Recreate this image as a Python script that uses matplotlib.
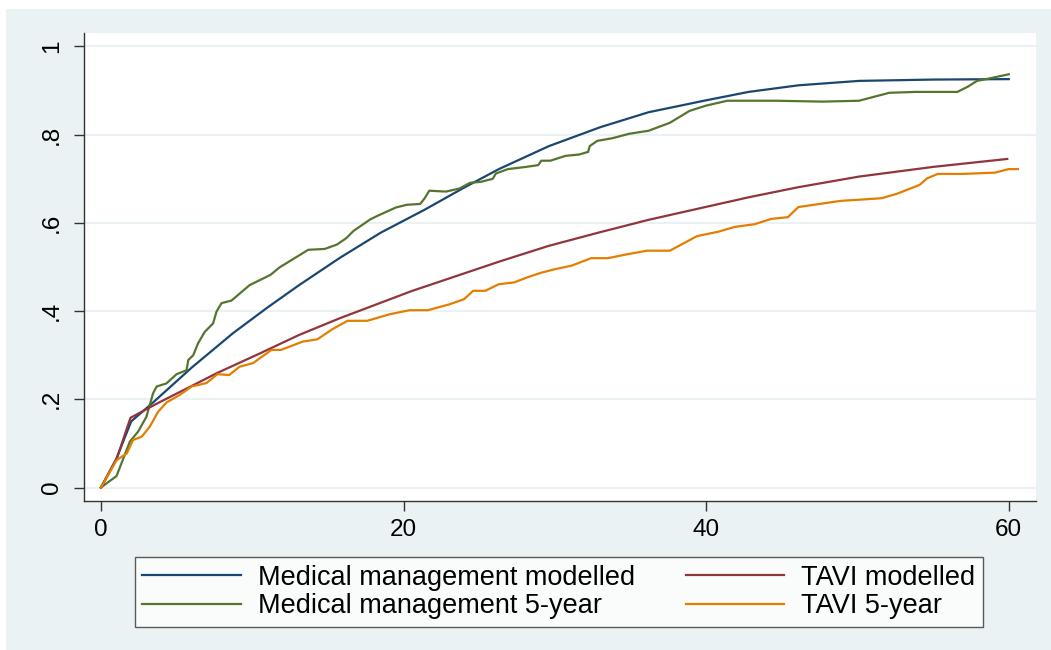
import matplotlib
matplotlib.use('Agg')
import matplotlib.pyplot as plt
from matplotlib.patches import Rectangle

plt.rcParams['font.family'] = ['Liberation Sans', 'DejaVu Sans']

# Medical management modelled
mm_mod_x = [0, 1.03, 2.0, 3.45, 6.0, 8.73, 11.0, 13.1, 15.8, 18.5, 21.4, 24.0, 26.3, 29.6, 33.0, 36.2,
            40.0, 42.8, 46.1, 50.1, 55.0, 60.0]
mm_mod_y = [0, 0.066, 0.150, 0.193, 0.272, 0.350, 0.408, 0.459, 0.521, 0.578, 0.630, 0.680, 0.722,
            0.774, 0.817, 0.851, 0.878, 0.897, 0.912, 0.922, 0.925, 0.926]

# Medical management 5-year
mm_5y_x = [0, 1.03, 1.91, 2.46, 3.0, 3.45, 3.68, 4.33, 5.0, 5.66, 5.77, 6.1, 6.42, 6.86, 7.41, 7.64,
           7.97, 8.63, 9.83, 11.2, 11.8, 13.7, 14.8, 15.6, 16.2, 16.7, 17.8, 18.4, 19.5, 20.2, 21.1,
           21.4, 21.7, 22.8, 23.7, 24.4, 25.1, 25.9, 26.1, 26.9, 28.1, 28.9, 29.1, 29.7, 30.7, 31.6,
           32.2, 32.3, 32.8, 33.8, 34.9, 36.2, 37.6, 38.9, 40.0, 41.4, 44.6, 47.7, 50.1, 52.1, 53.8,
           56.6, 57.3, 57.9, 58.5, 60.0]
mm_5y_y = [0, 0.026, 0.104, 0.127, 0.160, 0.214, 0.229, 0.236, 0.257, 0.266, 0.289, 0.300, 0.327,
           0.353, 0.372, 0.399, 0.418, 0.424, 0.459, 0.482, 0.499, 0.539, 0.541, 0.551, 0.565, 0.582,
           0.608, 0.618, 0.635, 0.641, 0.643, 0.656, 0.673, 0.671, 0.678, 0.691, 0.693, 0.700, 0.712,
           0.722, 0.727, 0.731, 0.741, 0.741, 0.752, 0.755, 0.761, 0.774, 0.786, 0.792, 0.802, 0.809,
           0.827, 0.854, 0.866, 0.877, 0.877, 0.875, 0.877, 0.895, 0.897, 0.897, 0.909, 0.922, 0.926,
           0.937]

# TAVI modelled
tavi_mod_x = [0, 1.03, 1.95, 3.68, 6.1, 7.64, 10.5, 13.1, 15.8, 20.5, 26.3, 29.6, 33.0, 36.2, 42.8,
              46.1, 50.1, 55.0, 59.9]
tavi_mod_y = [0, 0.064, 0.158, 0.190, 0.232, 0.259, 0.304, 0.346, 0.384, 0.445, 0.512, 0.548, 0.579,
              0.607, 0.658, 0.681, 0.705, 0.727, 0.745]

# TAVI 5-year
tavi_5y_x = [0, 1.03, 1.7, 2.13, 2.69, 3.23, 3.78, 4.34, 5.21, 5.99, 6.98, 7.7, 8.47, 9.17, 10.05,
             11.27, 11.9, 13.35, 14.3, 15.3, 16.3, 17.6, 19.1, 20.4, 21.6, 23.0, 24.0, 24.6, 25.4,
             26.3, 27.3, 28.3, 29.1, 30.0, 31.1, 32.4, 33.5, 34.8, 36.1, 37.6, 39.4, 40.8, 41.9,
             43.2, 44.3, 45.4, 46.1, 47.5, 48.9, 50.3, 51.6, 52.6, 54.1, 54.6, 55.3, 56.9, 59.1,
             60.0, 60.6]
tavi_5y_y = [0, 0.062, 0.077, 0.108, 0.115, 0.138, 0.172, 0.193, 0.210, 0.229, 0.237, 0.257, 0.255,
             0.274, 0.282, 0.312, 0.312, 0.331, 0.336, 0.359, 0.378, 0.378, 0.393, 0.402, 0.402,
             0.415, 0.427, 0.446, 0.446, 0.461, 0.465, 0.478, 0.487, 0.495, 0.503, 0.520, 0.520,
             0.529, 0.537, 0.537, 0.570, 0.580, 0.591, 0.597, 0.609, 0.613, 0.636, 0.643, 0.650,
             0.653, 0.656, 0.666, 0.686, 0.701, 0.711, 0.711, 0.714, 0.722, 0.722]

y_ticks = [0, 0.2, 0.4, 0.6, 0.8, 1]
y_labels = ['0', '.2', '.4', '.6', '.8', '1']
x_ticks = [0, 20, 40, 60]

bg = '#EAF2F3'
fig = plt.figure(figsize=(10.51, 6.5), dpi=100, facecolor='white')
fig.patches.append(Rectangle((6 / 1051, 0), 1, (650 - 9) / 650, transform=fig.transFigure,
                             facecolor=bg, edgecolor='none', zorder=-10))

ax = fig.add_axes([84 / 1051, 1 - 501 / 650, (1036 - 84) / 1051, (501 - 33) / 650])
ax.set_facecolor('white')

ax.plot(mm_mod_x, mm_mod_y, color='#1A476F', lw=1.6, label='Medical management modelled')
ax.plot(mm_5y_x, mm_5y_y, color='#55752F', lw=1.6, label='Medical management 5-year')
ax.plot(tavi_mod_x, tavi_mod_y, color='#90353B', lw=1.6, label='TAVI modelled')
ax.plot(tavi_5y_x, tavi_5y_y, color='#E37E00', lw=1.6, label='TAVI 5-year')

ax.set_xlim(-1.12, 61.8)
ax.set_ylim(-0.0306, 1.0306)
ax.set_xticks(x_ticks)
ax.set_yticks(y_ticks)
ax.set_yticklabels(y_labels, rotation=90, va='center')
ax.tick_params(axis='both', labelsize=17.5, length=7, width=1, color='#333333', pad=6)
ax.tick_params(axis='y', pad=8)
ax.grid(axis='y', color=bg, lw=1.5)
ax.set_axisbelow(True)
for s in ['top', 'right']:
    ax.spines[s].set_visible(False)
for s in ['left', 'bottom']:
    ax.spines[s].set_color('#333333')
    ax.spines[s].set_linewidth(1)

# legend order: column 1 medical, column 2 TAVI
h, l = ax.get_legend_handles_labels()
leg = fig.legend(h, l, ncol=2, loc='center',
                 bbox_to_anchor=((130 + 988) / 2 / 1051, 1 - (559 + 625) / 2 / 650),
                 fontsize=19.5, frameon=True, fancybox=False, handlelength=3.65,
                 handletextpad=0.63, columnspacing=1.85, labelspacing=0.1, borderpad=0.28)
leg.get_frame().set_edgecolor('#333333')
leg.get_frame().set_linewidth(1)
leg.get_frame().set_facecolor('white')

fig.savefig('out.png', dpi=100, facecolor=fig.get_facecolor())
plt.close(fig)
